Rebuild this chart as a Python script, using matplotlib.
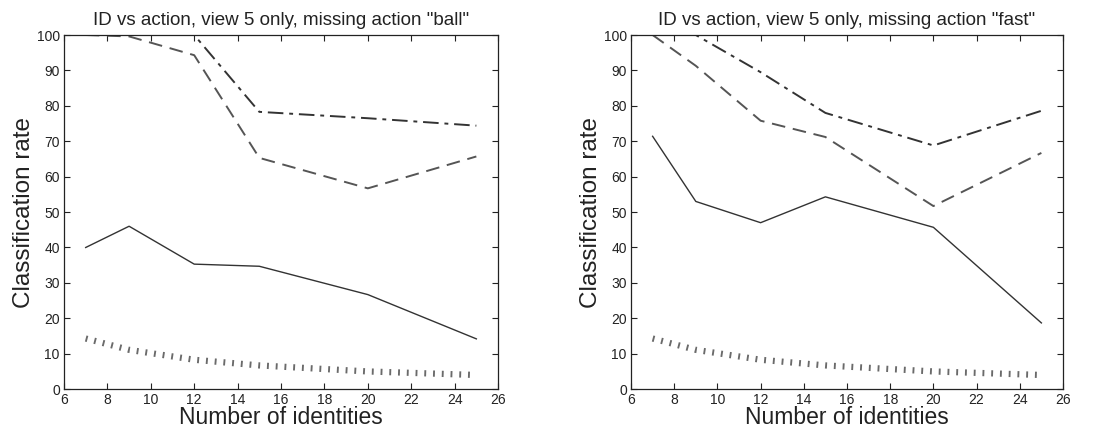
import numpy as np
import matplotlib.pyplot as plt

plt.rcParams['font.family'] = ['Liberation Sans', 'DejaVu Sans']

# =========================
# DATA
# =========================

n_ids = [7, 9, 12, 15, 20, 25]

titles = ['ID vs action, view 5 only, missing action "ball"',
          'ID vs action, view 5 only, missing action "fast"']

# missing action "ball"
ball_solid   = [40.0, 46.0, 35.3, 34.7, 26.7, 14.2]
ball_dashed  = [100.0, 99.6, 94.3, 65.3, 56.7, 65.7]
ball_dashdot = [100.0, 100.0, 100.0, 78.3, 76.5, 74.4]
ball_chance  = [14.3, 11.1, 8.3, 6.7, 5.0, 4.0]

# missing action "fast"
fast_solid   = [71.4, 53.0, 47.0, 54.3, 45.7, 18.7]
fast_dashed  = [100.0, 91.3, 75.8, 71.2, 51.7, 66.7]
fast_dashdot = [100.0, 100.0, 89.5, 78.0, 68.8, 78.6]
fast_chance  = [14.3, 11.1, 8.3, 6.7, 5.0, 4.0]

panels = [
    (ball_solid, ball_dashed, ball_dashdot, ball_chance),
    (fast_solid, fast_dashed, fast_dashdot, fast_chance),
]

# =========================
# PLOT
# =========================

fig = plt.figure(figsize=(11.09, 4.30), dpi=100)
ax_pos = [[0.0577, 0.0950, 0.3914, 0.8236],
          [0.5690, 0.0950, 0.3895, 0.8236]]

for pos, title, (solid, dashed, dashdot, chance) in zip(ax_pos, titles, panels):
    ax = fig.add_axes(pos)

    ax.plot(n_ids, solid, color='#333333', lw=1.0, ls='-')
    ax.plot(n_ids, dashed, color='#555555', lw=1.4, ls=(0, (7, 4)))
    ax.plot(n_ids, dashdot, color='#333333', lw=1.4, ls=(0, (8, 3, 2, 3)))
    ax.plot(n_ids, chance, color='#6a6a6a', lw=4.5, ls=(0, (0.3, 1.1)))

    ax.set_xlim(6, 26)
    ax.set_ylim(0, 100)
    ax.set_xticks(np.arange(6, 27, 2))
    ax.set_yticks(np.arange(0, 101, 10))
    ax.tick_params(axis='both', direction='in', top=True, right=True, labelsize=10,
                   length=4, width=0.8, colors='#222222')
    ax.tick_params(axis='x', pad=3)
    ax.tick_params(axis='y', pad=3)
    for sp in ax.spines.values():
        sp.set_linewidth(0.9)
        sp.set_color('#222222')

    ax.set_title(title, fontsize=13.5, color='#222222', pad=7)
    ax.set_xlabel('Number of identities', fontsize=16.5, color='#222222', labelpad=-1)
    ax.set_ylabel('Classification rate', fontsize=17.5, color='#222222', labelpad=1)

plt.savefig('out.png', dpi=100)
